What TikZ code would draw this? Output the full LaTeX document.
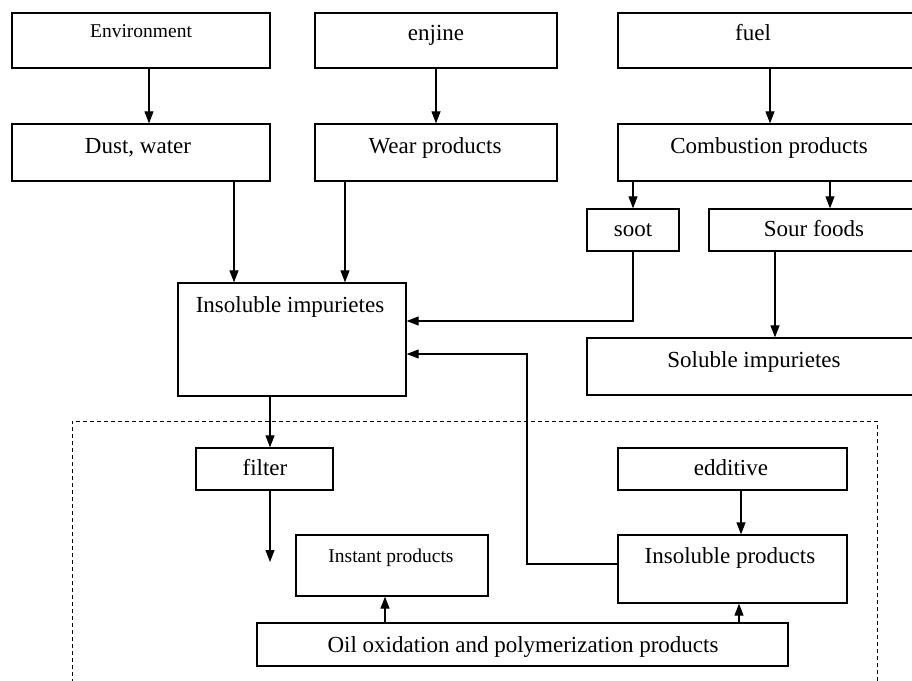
\documentclass[tikz,border=0pt]{standalone}
\usepackage{fontspec}
\setmainfont{Liberation Serif}
\usetikzlibrary{arrows.meta,fit,calc}
\tikzset{
  bx/.style={draw, line width=1.3pt, inner sep=0pt, fit={#1}},
  txt/.style={inner sep=0pt, anchor=base, font=\fontsize{23}{27}\selectfont},
  smalltxt/.style={inner sep=0pt, anchor=base, font=\fontsize{19.5}{23}\selectfont},
  arr/.style={line width=1.1pt, -{Triangle[length=12pt,width=9pt]}},
  dashbox/.style={line width=1pt, dash pattern=on 4pt off 3pt},
}
\begin{document}
\begin{tikzpicture}[x=1pt,y=-1pt]
\useasboundingbox (0,0) rectangle (912,680);
\clip (0,0) rectangle (912,680);
% boxes
\node[bx={(12,13)(270,68)}] (env) {};
\node[smalltxt] (envt) at (141,37) {Environment};
\node[bx={(315,13)(557,68)}] (eng) {};
\node[txt] (engt) at (436,40) {enjine};
\node[bx={(618,13)(920,68)}] (fuel) {};
\node[txt] (fuelt) at (753,40) {fuel};
\node[bx={(12,124)(270,181)}] (dust) {};
\node[txt] (dustt) at (138,153) {Dust, water};
\node[bx={(315,124)(557,181)}] (wear) {};
\node[txt] (weart) at (435,153) {Wear products};
\node[bx={(618,124)(920,181)}] (comb) {};
\node[txt] (combt) at (769,153) {Combustion products};
\node[bx={(587,209)(679,251)}] (soot) {};
\node[txt] (soott) at (633,236) {soot};
\node[bx={(709,209)(920,251)}] (sour) {};
\node[txt] (sourt) at (814,236) {Sour foods};
\node[bx={(178,283)(406,396)}] (insol) {};
\node[txt] (insolt) at (290,312) {Insoluble impurietes};
\node[bx={(587,338)(920,395)}] (solub) {};
\node[txt] (solubt) at (754,367) {Soluble impurietes};
% dashed region
\draw[dashbox] (72,690) -- (72,421) -- (877,421) -- (877,690);
\node[bx={(196,448)(333,490)}] (filter) {};
\node[txt] (filtert) at (265,475) {filter};
\node[bx={(618,448)(847,490)}] (eddit) {};
\node[txt] (editt) at (731,475) {edditive};
\node[bx={(296,535)(488,596)}] (instant) {};
\node[smalltxt] (instantt) at (391,562) {Instant products};
\node[bx={(618,535)(847,603)}] (insprod) {};
\node[txt] (insprodt) at (730,563) {Insoluble products};
\node[bx={(257,623)(788,666)}] (oil) {};
\node[txt] (oilt) at (523,652) {Oil oxidation and polymerization products};
\coordinate (filterend) at (270,562);
% connectors
\draw[arr] (env.south -| 149,0) -- (dust.north -| 149,0);
\draw[arr] (eng.south -| 436,0) -- (wear.north -| 436,0);
\draw[arr] (fuel.south -| 770,0) -- (comb.north -| 770,0);
\draw[arr] (dust.south -| 234,0) -- (insol.north -| 234,0);
\draw[arr] (wear.south -| 345,0) -- (insol.north -| 345,0);
\draw[arr] (comb.south -| soot.north) -- (soot.north);
\draw[arr] (comb.south -| 830,0) -- (sour.north -| 830,0);
\draw[arr] (soot.south) |- (insol.east |- 0,321);
\draw[arr] (sour.south -| 775,0) -- (solub.north -| 775,0);
\draw[arr] (insol.south -| 270,0) -- (filter.north -| 270,0);
\draw[arr] (filter.south -| filterend) -- (filterend);
\draw[arr] (eddit.south -| 741,0) -- (insprod.north -| 741,0);
\draw[arr] (insprod.west |- 0,564) -- (527,564) -- (527,354) -- (insol.east |- 0,354);
\draw[arr] (oil.north -| 385,0) -- (instant.south -| 385,0);
\draw[arr] (oil.north -| 739,0) -- (insprod.south -| 739,0);
\end{tikzpicture}
\end{document}
